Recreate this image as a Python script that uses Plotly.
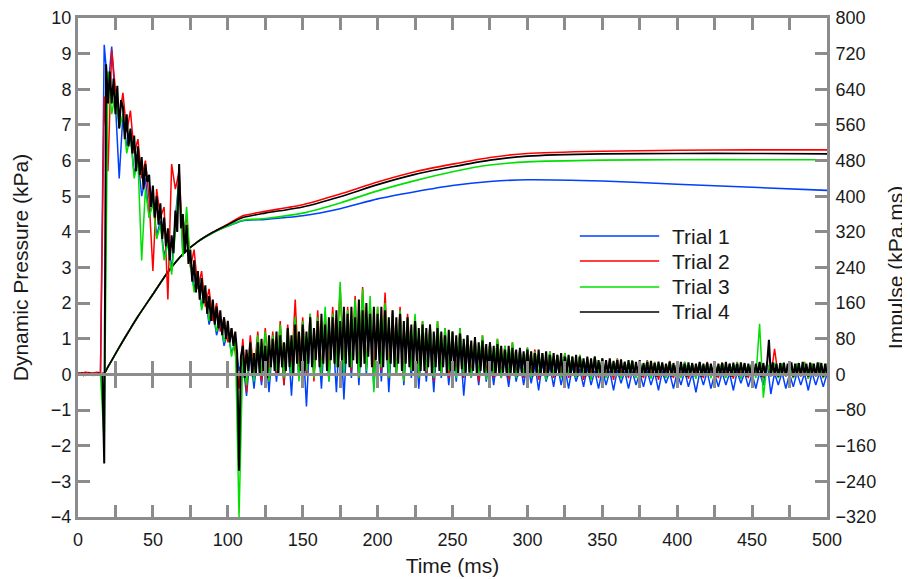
import numpy as np
import plotly.graph_objects as go


# ============================================================
# DATA
# ============================================================

trials = ["Trial 1", "Trial 2", "Trial 3", "Trial 4"]
colors = ["#0040ff", "#ff0000", "#00e000", "#000000"]

# sample times of the pressure records (ms)
t_trial123 = np.arange(0, 500.01, 2.5)    # trials 1-3, every 2.5 ms
t_trial4 = np.arange(0, 500.01, 1.25)     # trial 4, every 1.25 ms

pressure_trial1 = [
    0.0, 0.03, -0.02, 0.02, -0.03, 0.01, -0.02, 9.25, 8.0, 9.2,
    7.6, 5.5, 7.3, 6.4, 6.8, 5.6, 6.1, 5.0, 5.5, 4.4,
    4.9, 3.9, 4.3, 3.3, 3.8, 2.9, 4.4, 5.5, 3.4, 3.8,
    3.2, 2.4, 2.7, 1.9, 2.2, 1.4, 1.8, 1.1, 1.5, 0.8,
    1.2, 0.6, 0.9, 0.1, 0.4, -0.6, 0.6, -0.4, 0.7, -0.3,
    0.8, -0.5, 0.9, -0.2, 1.0, -0.3, 1.1, -0.6, 1.2, -0.1,
    1.1, -0.9, 1.3, 0.0, 1.2, -0.4, 1.4, -0.2, 1.3, -0.5,
    1.5, -0.7, 1.4, -0.1, 1.6, -0.3, 1.5, 0.0, 1.7, -0.4,
    1.5, -0.2, 1.6, -0.5, 1.4, 0.0, 1.3, -0.3, 1.2, -0.1,
    1.3, -0.4, 1.1, -0.2, 1.0, -0.5, 1.1, -0.1, 0.9, -0.3,
    0.8, -0.2, 0.9, -0.6, 0.7, -0.1, 0.6, -0.3, 0.7, -0.2,
    0.5, -0.3, 0.6, -0.1, 0.4, -0.35, 0.5, -0.2, 0.35, -0.3,
    0.4, -0.25, 0.3, -0.45, 0.35, -0.2, 0.25, -0.35, 0.3, -0.3,
    0.2, -0.4, 0.25, -0.2, 0.15, -0.35, 0.2, -0.3, 0.1, -0.4,
    0.15, -0.3, 0.1, -0.45, 0.12, -0.25, 0.08, -0.4, 0.1, -0.3,
    0.05, -0.35, 0.1, -0.3, 0.05, -0.45, 0.08, -0.25, 0.04, -0.4,
    0.06, -0.3, 0.1, -0.35, 0.03, -0.5, 0.05, -0.3, 0.08, -0.4,
    0.02, -0.35, 0.06, -0.3, 0.04, -0.45, 0.08, -0.25, 0.05, -0.35,
    0.03, -0.4, 0.06, -0.3, 0.35, -0.55, 0.04, -0.3, 0.06, -0.4,
    0.02, -0.35, 0.05, -0.3, 0.03, -0.45, 0.06, -0.3, 0.04, -0.35,
    0.02,
]

pressure_trial2 = [
    0.05, 0.04, 0.06, 0.05, 0.04, 0.06, 0.05, 7.8, 5.7, 9.1,
    8.0, 7.2, 7.9, 6.8, 7.4, 6.2, 6.6, 5.5, 6.0, 4.9,
    2.9, 5.2, 4.4, 4.7, 2.1, 5.9, 5.2, 5.7, 3.7, 4.5,
    3.0, 3.5, 2.4, 2.9, 1.9, 2.4, 1.5, 2.0, 1.2, 1.6,
    0.9, 1.3, 0.6, -0.4, 1.0, -0.5, 1.1, 0.0, 1.2, -0.2,
    1.3, -0.1, 1.2, 0.0, 1.5, -0.3, 1.4, 0.1, 2.1, -0.1,
    1.6, 0.0, 1.7, -0.2, 1.8, 0.1, 1.7, -0.1, 1.9, 0.2,
    2.45, 0.0, 1.9, 0.1, 2.2, -0.1, 2.45, 0.2, 2.0, 0.0,
    1.9, 0.1, 2.3, -0.1, 1.8, 0.0, 1.9, -0.2, 1.7, 0.1,
    1.6, -0.1, 1.5, 0.0, 1.4, -0.2, 1.5, 0.0, 1.3, -0.1,
    1.2, 0.0, 1.3, -0.1, 1.1, 0.0, 1.0, -0.2, 1.1, 0.0,
    0.9, -0.1, 1.0, 0.0, 0.8, -0.15, 0.9, 0.0, 0.7, -0.1,
    0.75, 0.0, 0.7, -0.15, 0.6, 0.0, 0.65, -0.1, 0.55, -0.05,
    0.6, -0.1, 0.5, 0.0, 0.55, -0.15, 0.45, 0.0, 0.5, -0.1,
    0.45, -0.05, 0.4, -0.15, 0.45, 0.0, 0.35, -0.1, 0.4, -0.05,
    0.35, -0.1, 0.4, -0.05, 0.35, -0.15, 0.3, 0.0, 0.38, -0.1,
    0.32, -0.05, 0.35, -0.12, 0.3, 0.0, 0.33, -0.1, 0.35, -0.05,
    0.3, -0.1, 0.34, 0.0, 0.3, -0.12, 0.35, -0.05, 0.3, -0.1,
    0.32, -0.05, 0.3, -0.1, 0.3, -0.05, 0.72, -0.08, 0.3, -0.05,
    0.33, -0.1, 0.3, -0.05, 0.35, -0.12, 0.3, -0.05, 0.32, -0.1,
    0.3,
]

pressure_trial3 = [
    -0.02, 0.01, -0.03, 0.0, -0.02, 0.02, -0.01, -1.9, 8.5, 7.3,
    7.9, 6.9, 7.3, 6.2, 6.7, 5.5, 6.0, 3.2, 5.2, 4.4,
    4.8, 3.8, 4.2, 3.2, 3.7, 2.8, 4.0, 5.6, 3.3, 4.7,
    3.1, 2.3, 2.8, 1.8, 2.3, 1.5, 1.9, 1.2, 1.6, 0.9,
    1.3, 0.5, 1.0, -4.0, 0.5, -0.3, 0.9, -0.2, 1.1, 0.0,
    1.2, -0.2, 1.1, 0.1, 1.4, -0.1, 1.3, 0.0, 1.6, -0.2,
    1.5, 0.1, 1.7, -0.1, 1.6, 0.0, 1.9, -0.2, 1.7, 0.2,
    2.6, 0.0, 1.8, 0.2, 2.1, -0.1, 2.4, 0.1, 2.2, -0.5,
    1.9, 0.2, 2.0, -0.1, 1.7, 0.0, 1.8, -0.2, 1.6, 0.1,
    1.7, -0.1, 1.5, 0.1, 1.4, -0.1, 1.5, 0.0, 1.3, 0.1,
    1.2, -0.1, 1.3, 0.0, 1.1, -0.1, 1.0, 0.0, 1.1, -0.15,
    0.9, 0.0, 1.0, -0.1, 0.8, 0.0, 0.9, -0.1, 0.7, 0.0,
    0.75, -0.1, 0.65, 0.0, 0.6, -0.15, 0.65, 0.0, 0.55, -0.1,
    0.6, 0.0, 0.5, -0.1, 0.55, 0.0, 0.45, -0.15, 0.5, 0.0,
    0.45, -0.1, 0.4, 0.0, 0.42, -0.12, 0.36, 0.0, 0.4, -0.1,
    0.35, 0.0, 0.38, -0.12, 0.34, 0.0, 0.32, -0.1, 0.36, 0.0,
    0.32, -0.1, 0.35, 0.0, 0.3, -0.12, 0.34, 0.0, 0.32, -0.1,
    0.3, 0.0, 0.33, -0.1, 0.3, 0.0, 0.34, -0.12, 0.3, 0.0,
    0.32, -0.1, 1.42, -0.65, 0.3, 0.0, 0.33, -0.1, 0.3, 0.0,
    0.32, -0.1, 0.3, 0.0, 0.34, -0.12, 0.3, 0.0, 0.33, -0.1,
    0.3,
]

# trial 4, one row = 10 ms
pressure_trial4 = [
    0.02, -0.01, 0.03, -0.02, 0.02, 0.0, 0.03, -0.01,
    0.02, -0.02, 0.01, 0.03, -0.01, 0.02, -2.5, 8.7,
    7.6, 8.5, 7.6, 8.3, 7.3, 8.1, 6.9, 7.7,
    7.5, 6.6, 7.3, 6.4, 6.9, 6.2, 6.7, 5.7,
    6.4, 5.6, 6.1, 5.2, 5.9, 5.4, 5.6, 4.7,
    5.3, 4.4, 5.0, 4.2, 4.8, 3.8, 4.4, 3.6,
    4.1, 3.2, 3.9, 3.4, 4.6, 4.0, 5.9, 4.1,
    4.5, 3.4, 4.2, 3.1, 3.5, 2.6, 3.2, 2.3,
    2.9, 2.1, 2.7, 2.0, 2.5, 1.7, 2.2, 1.5,
    2.1, 1.4, 1.9, 1.3, 1.8, 1.1, 1.6, 1.0,
    1.5, 0.9, 1.3, 0.8, 1.2, 0.6, -2.7, 0.5,
    0.8, -0.1, 0.7, 0.1, 0.9, -0.05, 0.6, 0.0,
    0.9, 0.0, 1.0, 0.1, 0.8, -0.1, 1.1, 0.2,
    1.0, 0.1, 1.2, 0.0, 1.1, 0.2, 0.9, 0.1,
    1.3, 0.2, 1.1, 0.0, 1.4, 0.3, 1.2, 0.1,
    1.4, 0.1, 1.2, 0.3, 1.6, 0.2, 1.3, 0.4,
    1.5, 0.2, 1.7, 0.3, 1.4, 0.1, 1.6, 0.4,
    1.6, 0.3, 1.8, 0.2, 1.5, 0.4, 1.9, 0.3,
    1.7, 0.2, 1.9, 0.4, 1.6, 0.3, 2.1, 0.2,
    1.8, 0.3, 2.0, 0.5, 1.7, 0.2, 1.9, 0.4,
    1.7, 0.3, 1.9, 0.2, 1.8, 0.4, 1.6, 0.3,
    1.8, 0.2, 1.6, 0.3, 1.7, 0.1, 1.5, 0.3,
    1.6, 0.2, 1.4, 0.1, 1.5, 0.3, 1.3, 0.1,
    1.4, 0.1, 1.3, 0.2, 1.4, 0.0, 1.2, 0.2,
    1.3, 0.1, 1.2, 0.2, 1.1, 0.0, 1.25, 0.1,
    1.2, 0.1, 1.1, 0.0, 1.15, 0.15, 1.0, 0.05,
    1.1, 0.05, 0.95, 0.1, 1.05, 0.0, 0.9, 0.1,
    0.95, 0.05, 0.85, 0.0, 0.9, 0.1, 0.8, -0.05,
    0.85, 0.0, 0.8, 0.05, 0.7, -0.05, 0.8, 0.0,
    0.75, 0.0, 0.7, -0.05, 0.75, 0.05, 0.65, 0.0,
    0.7, 0.0, 0.65, -0.05, 0.6, 0.05, 0.7, -0.05,
    0.6, 0.0, 0.65, -0.05, 0.55, 0.05, 0.6, -0.05,
    0.55, 0.0, 0.6, -0.05, 0.5, 0.05, 0.55, -0.05,
    0.5, 0.0, 0.55, -0.05, 0.5, 0.05, 0.45, -0.05,
    0.5, -0.05, 0.45, 0.0, 0.5, -0.05, 0.4, 0.0,
    0.45, -0.05, 0.4, 0.0, 0.45, -0.05, 0.38, 0.0,
    0.4, -0.05, 0.42, 0.0, 0.35, -0.05, 0.4, 0.0,
    0.38, -0.04, 0.35, 0.0, 0.4, -0.06, 0.32, 0.0,
    0.35, -0.05, 0.38, 0.0, 0.32, -0.06, 0.36, 0.0,
    0.34, -0.05, 0.3, 0.0, 0.36, -0.06, 0.32, -0.02,
    0.33, -0.05, 0.35, 0.0, 0.3, -0.06, 0.34, -0.02,
    0.32, -0.05, 0.3, 0.0, 0.35, -0.06, 0.3, -0.02,
    0.33, -0.04, 0.3, 0.0, 0.34, -0.06, 0.3, -0.02,
    0.32, -0.05, 0.35, 0.0, 0.3, -0.06, 0.33, -0.02,
    0.3, -0.05, 0.34, 0.0, 0.32, -0.06, 0.3, -0.02,
    0.33, -0.04, 0.3, 0.0, 0.35, -0.06, 0.32, -0.02,
    0.3, 0.97, -0.05, 0.34, 0.0, 0.3, -0.06, 0.32,
    -0.02, 0.33, -0.05, 0.3, 0.0, 0.34, -0.06, 0.3,
    -0.02, 0.32, -0.05, 0.35, 0.0, 0.3, -0.06, 0.33,
    -0.02, 0.3, -0.05, 0.34, 0.0, 0.32, -0.06, 0.3,
    -0.02,
]

# impulse (kPa.ms)
t_impulse = [0, 17, 20, 25, 30, 35, 40, 50, 60, 70, 80, 90, 100,
             110, 125, 150, 175, 200, 225, 250, 275, 300, 350, 400, 450, 500]

impulse_trial1 = [0, 0, 17, 46, 75, 103, 130, 180, 230, 270, 298, 318, 333,
                  345, 348, 356, 372, 394, 410, 424, 433, 437, 434, 427, 420, 413]
impulse_trial2 = [0, 0, 17, 46, 75, 103, 130, 180, 230, 270, 298, 319, 337,
                  356, 366, 381, 405, 432, 455, 472, 487, 496, 501, 503, 504, 504]
impulse_trial3 = [0, 0, 17, 46, 75, 103, 130, 180, 230, 270, 298, 318, 333,
                  346, 350, 362, 385, 412, 435, 455, 470, 477, 481, 482, 482, 482]
impulse_trial4 = [0, 0, 17, 46, 75, 103, 130, 180, 230, 270, 298, 319, 336,
                  352, 362, 376, 399, 426, 449, 466, 481, 490, 495, 496, 496, 495]

pressure_times = [t_trial123, t_trial123, t_trial123, t_trial4]
pressures = [pressure_trial1, pressure_trial2, pressure_trial3, pressure_trial4]
impulses = [impulse_trial1, impulse_trial2, impulse_trial3, impulse_trial4]
pressure_widths = [1.5, 1.5, 1.5, 2.0]


# ============================================================
# FIGURE
# ============================================================

fig = go.Figure()

# impulse curves on the base (right) axis, drawn underneath
for name, color, imp in zip(trials, colors, impulses):
    fig.add_trace(
        go.Scatter(
            x=t_impulse,
            y=imp,
            mode="lines",
            name=name,
            line=dict(color=color, width=1.6, shape="spline", smoothing=0.6),
            yaxis="y",
            showlegend=False,
        )
    )

# pressure records on the overlaying (left) axis, drawn on top
for name, color, tt, p, w in zip(trials, colors, pressure_times, pressures, pressure_widths):
    fig.add_trace(
        go.Scatter(
            x=tt,
            y=p,
            mode="lines",
            name=name,
            line=dict(color=color, width=w),
            yaxis="y2",
            showlegend=False,
        )
    )

# empty trace so that the zero-line axis gets drawn
fig.add_trace(
    go.Scatter(x=[None], y=[None], xaxis="x3", yaxis="y",
               mode="lines", showlegend=False, hoverinfo="skip")
)


# ============================================================
# AXES
# ============================================================

grey = "#8c8c8c"
text_color = "#1a1a1a"
font_family = "Arial, Liberation Sans, sans-serif"

axis_style = dict(
    showline=True,
    linecolor=grey,
    linewidth=3,
    ticks="inside",
    ticklen=12,
    tickwidth=2.5,
    tickcolor=grey,
    showgrid=False,
    zeroline=False,
    automargin=False,
    layer="above traces",
    tickfont=dict(size=18, color=text_color, family=font_family),
)

fig.update_layout(
    xaxis=dict(
        **axis_style,
        range=[0, 500],
        tick0=0,
        dtick=50,
        mirror="ticks",
        ticklabelstandoff=4,
        minor=dict(ticks="inside", dtick=25, ticklen=12, tickwidth=2.5, tickcolor=grey),
        title=dict(text="Time (ms)", font=dict(size=21, color=text_color), standoff=10),
    ),
    # zero line, with the ticks crossing it
    xaxis3=dict(
        overlaying="x", anchor="free", position=4 / 14, range=[0, 500],
        tick0=0, dtick=25, ticks="inside", ticklen=12, tickwidth=2.5, tickcolor=grey,
        showline=True, linecolor=grey, linewidth=3, showticklabels=False,
        showgrid=False, zeroline=False, automargin=False, layer="above traces",
        minor=dict(ticks="outside", dtick=25, ticklen=12, tickwidth=2.5, tickcolor=grey),
    ),
    yaxis=dict(
        **axis_style,
        side="right",
        range=[-320, 800],
        tick0=0,
        dtick=80,
        ticklabelstandoff=2,
        title=dict(text="Impulse (kPa.ms)", font=dict(size=21, color=text_color), standoff=14),
    ),
    yaxis2=dict(
        **axis_style,
        side="left",
        overlaying="y",
        range=[-4, 10],
        tick0=0,
        dtick=1,
        title=dict(text="Dynamic Pressure (kPa)", font=dict(size=21, color=text_color), standoff=17),
    ),
)


# ============================================================
# LEGEND (long line samples, as in the original)
# ============================================================

legend_y = [0.563, 0.513, 0.461, 0.411]

for name, color, ly in zip(trials, colors, legend_y):
    fig.add_shape(
        type="line", xref="paper", yref="paper",
        x0=0.670, x1=0.776, y0=ly, y1=ly,
        line=dict(color=color, width=1.5),
    )
    fig.add_annotation(
        xref="paper", yref="paper", x=0.791, y=ly,
        text=name, showarrow=False, xanchor="left", yanchor="middle",
        font=dict(size=21, color=text_color, family=font_family),
    )


# ============================================================
# LAYOUT  (page body adds 8 px, figure is shrunk to fit)
# ============================================================

fig.update_layout(
    width=902,
    height=571,
    margin=dict(l=70, r=83, t=10, b=62),
    paper_bgcolor="white",
    plot_bgcolor="white",
    showlegend=False,
    font=dict(family=font_family, size=18, color=text_color),
)

fig.write_html("out.html")
